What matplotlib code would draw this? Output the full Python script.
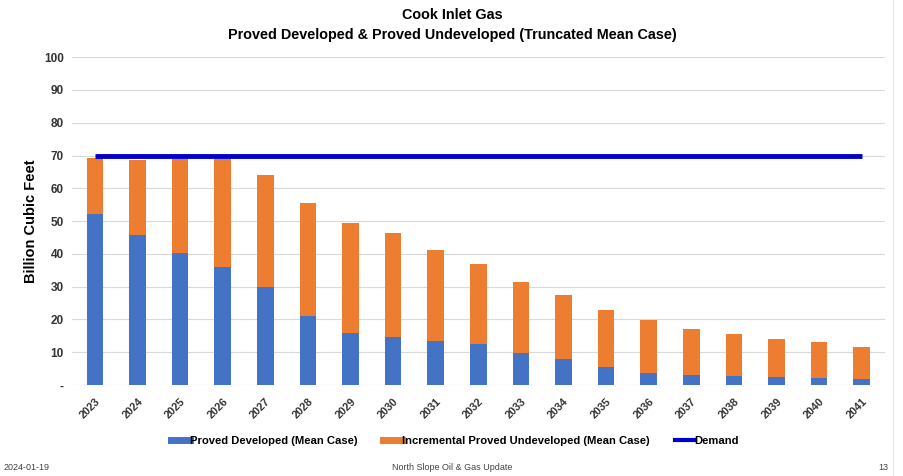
import matplotlib
matplotlib.use("Agg")
import matplotlib.pyplot as plt
from matplotlib.lines import Line2D

plt.rcParams["font.family"] = ["Liberation Sans", "DejaVu Sans"]

years = [str(y) for y in range(2023, 2042)]
proved_developed = [52.3, 45.7, 40.4, 36.1, 30.0, 21.0, 16.0, 14.7, 13.5, 12.5,
                    9.9, 8.0, 5.4, 3.7, 3.0, 2.8, 2.5, 2.2, 1.9]
total_top = [69.1, 68.6, 68.8, 68.8, 64.2, 55.5, 49.5, 46.4, 41.3, 36.9,
             31.5, 27.5, 23.0, 19.8, 17.0, 15.5, 14.2, 13.1, 11.5]
incremental_pud = [t - d for t, d in zip(total_top, proved_developed)]
demand = [70.0] * len(years)

ytick_vals = [0, 10, 20, 30, 40, 50, 60, 70, 80, 90, 100]
ytick_labels = ["-", "10", "20", "30", "40", "50", "60", "70", "80", "90", "100"]

c_pd = "#4472C4"
c_pud = "#ED7D31"
c_dem = "#0000CC"

fig = plt.figure(figsize=(9.04, 4.76), dpi=100)
ax = fig.add_axes([0.0796, 0.191, 0.899, 0.689])

x = list(range(len(years)))
ax.bar(x, proved_developed, width=0.39, color=c_pd, zorder=2)
ax.bar(x, incremental_pud, width=0.39, bottom=proved_developed, color=c_pud, zorder=2)
ax.plot(x, demand, color=c_dem, lw=3.5, solid_capstyle="butt", zorder=3)

ax.set_xlim(-0.54, len(years) - 0.46)
ax.set_ylim(0, 100)
ax.set_yticks(ytick_vals)
ax.set_yticklabels(ytick_labels, fontsize=8.5, fontweight="bold", color="#333333")
ax.set_xticks(x)
ax.set_xticklabels(years, rotation=45, ha="right", rotation_mode="anchor",
                   fontsize=7.8, fontweight="bold", color="#333333")
ax.tick_params(length=0, pad=6)
ax.tick_params(axis="x", pad=8)
ax.grid(axis="y", color="#D9D9D9", lw=0.8, zorder=0)
for s in ax.spines.values():
    s.set_visible(False)

ax.set_ylabel("Billion Cubic Feet", fontsize=10.5, fontweight="bold", labelpad=4)

fig.text(0.5, 0.968, "Cook Inlet Gas", ha="center", va="center",
         fontsize=10.4, fontweight="bold")
fig.text(0.5, 0.927, "Proved Developed & Proved Undeveloped (Truncated Mean Case)",
         ha="center", va="center", fontsize=10.4, fontweight="bold")

handles = [Line2D([], [], color=c_pd, lw=5),
           Line2D([], [], color=c_pud, lw=5),
           Line2D([], [], color=c_dem, lw=3)]
labels = ["Proved Developed (Mean Case)",
          "Incremental Proved Undeveloped (Mean Case)",
          "Demand"]
fig.legend(handles, labels, loc="center", bbox_to_anchor=(0.503, 0.073), ncol=3,
           frameon=False, handlelength=1.7, handletextpad=0.05, columnspacing=2.2,
           prop={"weight": "bold", "size": 8.1})

fig.text(0.004, 0.018, "2024-01-19", fontsize=6.5, color="#444444", va="center")
fig.text(0.5, 0.018, "North Slope Oil & Gas Update", fontsize=6.5, color="#444444",
         ha="center", va="center")
fig.text(0.977, 0.018, "13", fontsize=6.5, color="#444444", ha="center", va="center")

# faint slide border at the right
fig.add_artist(Line2D([0.988, 0.988], [0.0, 1.0], color="#E6E6E6", lw=0.8))

fig.savefig("out.png", dpi=100)
